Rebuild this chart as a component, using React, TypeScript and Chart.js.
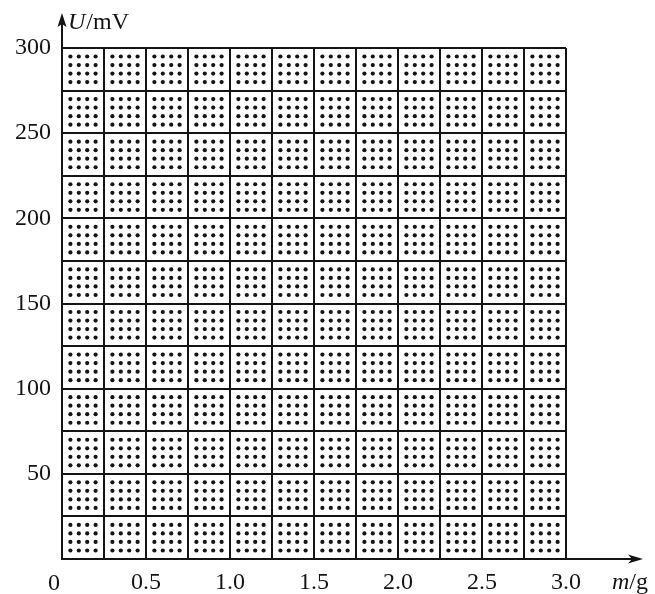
import React, { useEffect, useRef } from "react";
import { Chart, registerables } from "chart.js";

Chart.register(...registerables);

// Axis ranges and ticks
const xRange = [0, 3.0];
const yRange = [0, 300];
const xMajorStep = 0.25;
const yMajorStep = 25;
const minorDivisions = 5;
const xTickValues = [0.5, 1.0, 1.5, 2.0, 2.5, 3.0];
const xTickLabels = ["0.5", "1.0", "1.5", "2.0", "2.5", "3.0"];
const yTickValues = [50, 100, 150, 200, 250, 300];
const yTickLabels = ["50", "100", "150", "200", "250", "300"];
const originLabel = "0";
const xAxisTitle = ["m", "/g"];
const yAxisTitle = ["U", "/mV"];

const FONT = "'Liberation Serif', 'Times New Roman', serif";
const INK = "#141414";

const lookup = (vals: number[], labels: string[], v: number) => {
  const i = vals.findIndex((t) => Math.abs(t - v) < 1e-9);
  return i >= 0 ? labels[i] : "";
};

const dotsPlugin = {
  id: "dotGrid",
  beforeDatasetsDraw(chart: any) {
    const { ctx, scales } = chart;
    const xs = scales.x;
    const ys = scales.y;
    const xMinor = xMajorStep / minorDivisions;
    const yMinor = yMajorStep / minorDivisions;
    const nx = Math.round((xRange[1] - xRange[0]) / xMinor);
    const ny = Math.round((yRange[1] - yRange[0]) / yMinor);
    ctx.save();
    ctx.fillStyle = INK;
    for (let i = 1; i < nx; i++) {
      if (i % minorDivisions === 0) continue;
      const px = xs.getPixelForValue(xRange[0] + i * xMinor);
      for (let j = 1; j < ny; j++) {
        if (j % minorDivisions === 0) continue;
        const py = ys.getPixelForValue(yRange[0] + j * yMinor);
        ctx.beginPath();
        ctx.arc(px, py, 2.1, 0, Math.PI * 2);
        ctx.fill();
      }
    }
    ctx.restore();
  },
  afterDraw(chart: any) {
    const { ctx, chartArea } = chart;
    const { left, bottom } = chartArea;
    ctx.save();
    ctx.strokeStyle = INK;
    ctx.fillStyle = INK;
    ctx.lineWidth = 2;
    // y axis extension + arrow
    const yTip = 13;
    ctx.beginPath();
    ctx.moveTo(left, chartArea.top);
    ctx.lineTo(left, yTip + 6);
    ctx.stroke();
    ctx.beginPath();
    ctx.moveTo(left, yTip);
    ctx.lineTo(left - 4.5, yTip + 14);
    ctx.lineTo(left, yTip + 11);
    ctx.lineTo(left + 4.5, yTip + 14);
    ctx.closePath();
    ctx.fill();
    // x axis extension + arrow
    const xTip = 643;
    ctx.beginPath();
    ctx.moveTo(chartArea.right, bottom);
    ctx.lineTo(xTip - 6, bottom);
    ctx.stroke();
    ctx.beginPath();
    ctx.moveTo(xTip, bottom);
    ctx.lineTo(xTip - 15, bottom - 4.5);
    ctx.lineTo(xTip - 11, bottom);
    ctx.lineTo(xTip - 15, bottom + 4.5);
    ctx.closePath();
    ctx.fill();

    // origin label
    ctx.font = `24px ${FONT}`;
    ctx.textAlign = "center";
    ctx.textBaseline = "alphabetic";
    ctx.fillText(originLabel, left - 8, 590);

    // y axis title
    ctx.textAlign = "left";
    ctx.font = `italic 24px ${FONT}`;
    let x = 68;
    ctx.fillText(yAxisTitle[0], x, 29);
    x += ctx.measureText(yAxisTitle[0]).width + 1;
    ctx.font = `24px ${FONT}`;
    ctx.fillText(yAxisTitle[1], x, 29);

    // x axis title
    ctx.font = `italic 24px ${FONT}`;
    x = 612;
    ctx.fillText(xAxisTitle[0], x, 589);
    x += ctx.measureText(xAxisTitle[0]).width;
    ctx.font = `24px ${FONT}`;
    ctx.fillText(xAxisTitle[1], x, 589);
    ctx.restore();
  },
};

export default function App() {
  const ref = useRef<HTMLCanvasElement | null>(null);
  useEffect(() => {
    document.body.style.margin = "0";
    if (!ref.current) return;
    const chart = new Chart(ref.current, {
      type: "scatter",
      data: { datasets: [] },
      plugins: [dotsPlugin],
      options: {
        animation: false,
        responsive: true,
        maintainAspectRatio: false,
        layout: { padding: { top: 48, right: 89, left: 0, bottom: 0 } },
        plugins: { legend: { display: false }, tooltip: { enabled: false } },
        scales: {
          x: {
            type: "linear",
            min: xRange[0],
            max: xRange[1],
            afterFit: (s: any) => {
              s.height = 35;
            },
            ticks: {
              stepSize: xMajorStep,
              autoSkip: false,
              maxRotation: 0,
              padding: 9,
              color: INK,
              font: { family: FONT, size: 24 },
              callback: (v: any) => lookup(xTickValues, xTickLabels, Number(v)),
            },
            grid: { color: INK, lineWidth: 2, drawTicks: false },
            border: { display: true, color: INK, width: 2 },
          },
          y: {
            type: "linear",
            min: yRange[0],
            max: yRange[1],
            afterFit: (s: any) => {
              s.width = 62;
            },
            ticks: {
              stepSize: yMajorStep,
              autoSkip: false,
              padding: 11,
              color: INK,
              font: { family: FONT, size: 24 },
              callback: (v: any) => lookup(yTickValues, yTickLabels, Number(v)),
            },
            grid: { color: INK, lineWidth: 2, drawTicks: false },
            border: { display: true, color: INK, width: 2 },
          },
        },
      },
    });
    return () => chart.destroy();
  }, []);
  return (
    <div style={{ position: "relative", width: 655, height: 594 }}>
      <canvas ref={ref} />
    </div>
  );
}
